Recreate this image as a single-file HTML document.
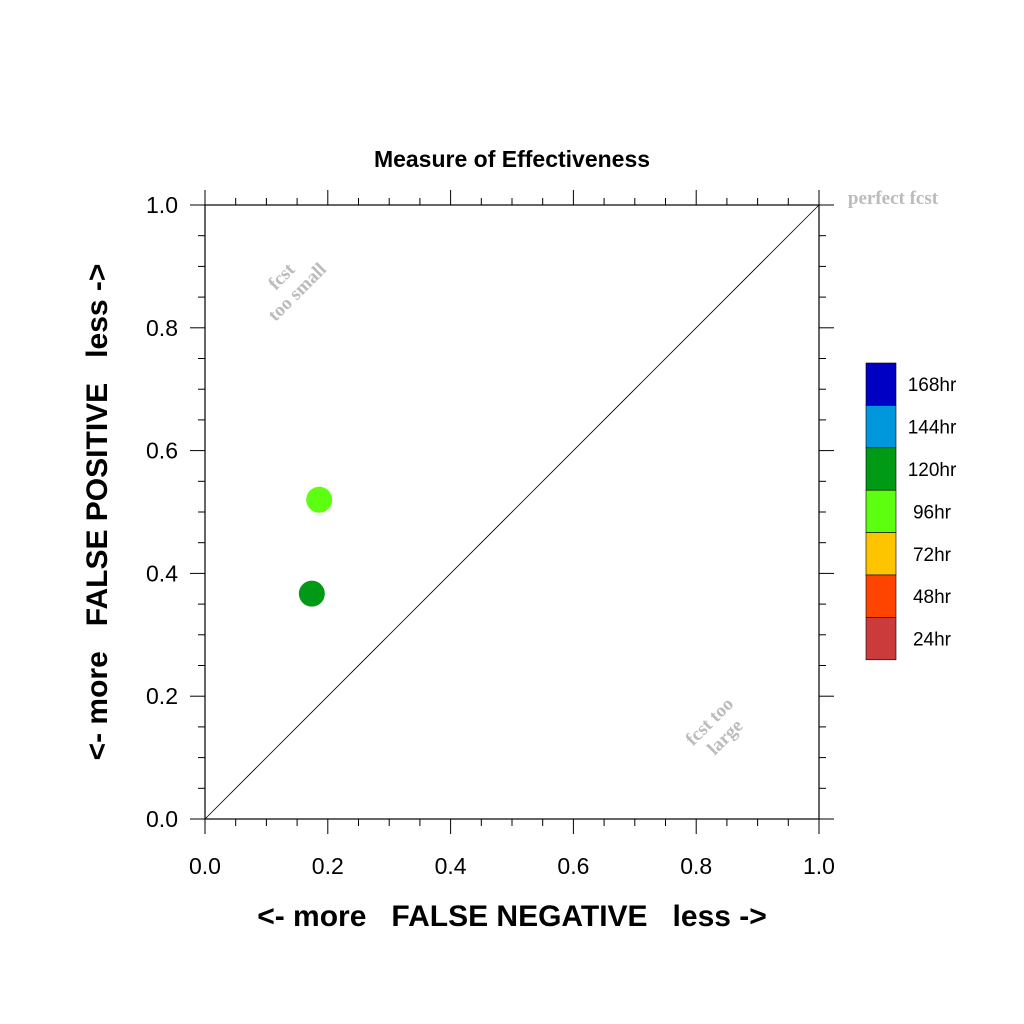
<!DOCTYPE html>
<html><head><style>body{margin:0;background:#fff}svg{display:block;font-family:"Liberation Sans",Arial,sans-serif}</style></head><body>
<svg id="c" width="1024" height="1024" viewBox="0 0 1024 1024">
<text x="512" y="167" text-anchor="middle" font-size="23" font-weight="bold">Measure of Effectiveness</text>
<g id="axes"></g>
<line x1="205" y1="819" x2="819" y2="205" stroke="#000" stroke-width="0.8"/>
<text x="893" y="204" text-anchor="middle" font-family="Liberation Serif,serif" font-weight="bold" font-size="19" fill="#bbb">perfect fcst</text>
<g transform="translate(290,285) rotate(-45)" fill="#bbb" font-family="Liberation Serif,serif" font-weight="bold" font-size="19" text-anchor="middle"><text x="0" y="-6">fcst</text><text x="0" y="16">too small</text></g>
<g transform="translate(718,730) rotate(-45)" fill="#bbb" font-family="Liberation Serif,serif" font-weight="bold" font-size="19" text-anchor="middle"><text x="0" y="-6">fcst too</text><text x="0" y="16">large</text></g>
<g id="pts"></g>
<g id="legend"></g>
<text x="512" y="926" text-anchor="middle" font-size="30" font-weight="bold" xml:space="preserve">&lt;- more   FALSE NEGATIVE   less -&gt;</text>
<text transform="translate(107,512) rotate(-90)" text-anchor="middle" font-size="30" font-weight="bold" xml:space="preserve">&lt;- more   FALSE POSITIVE   less -&gt;</text>
</svg>
<script>
const xTicks=[0,0.2,0.4,0.6,0.8,1.0];
const yTicks=[0,0.2,0.4,0.6,0.8,1.0];
const ptX=[0.186,0.174];
const ptY=[0.52,0.367];
const ptLabels=["96hr","120hr"];
const ptColors=["#5cff0f","#019a17"];
const legLabels=["168hr","144hr","120hr","96hr","72hr","48hr","24hr"];
const legColors=["#0000c4","#0097dc","#019a17","#5cff0f","#ffc400","#ff4400","#cc3b3b"];
const NS="http://www.w3.org/2000/svg";
const X0=205,X1=819,Y0=819,Y1=205;
const sx=v=>X0+(X1-X0)*v, sy=v=>Y0-(Y0-Y1)*v;
function mk(t,a,p){const e=document.createElementNS(NS,t);for(const k in a)e.setAttribute(k,a[k]);p.appendChild(e);return e;}
const ax=document.getElementById('axes');
const fr=mk('rect',{x:X0,y:Y1,width:X1-X0,height:Y0-Y1,fill:'none',stroke:'#000','stroke-width':1.2},ax);


for(let i=0;i<=20;i++){const v=i/20,maj=i%4==0,L=maj?15:7;
 const px=sx(v),py=sy(v);
 mk('line',{x1:px,y1:Y0,x2:px,y2:Y0+L,stroke:'#000','stroke-width':1},ax);
 mk('line',{x1:px,y1:Y1,x2:px,y2:Y1-L,stroke:'#000','stroke-width':1},ax);
 mk('line',{x1:X0,y1:py,x2:X0-L,y2:py,stroke:'#000','stroke-width':1},ax);
 mk('line',{x1:X1,y1:py,x2:X1+L,y2:py,stroke:'#000','stroke-width':1},ax);}
xTicks.forEach(v=>{const t=mk('text',{x:sx(v),y:874,'text-anchor':'middle','font-size':23},ax);t.textContent=v.toFixed(1);

});
yTicks.forEach(v=>{const t=mk('text',{x:178,y:sy(v)+8,'text-anchor':'end','font-size':23},ax);t.textContent=v.toFixed(1);

});
const pg=document.getElementById('pts');
ptX.forEach((v,i)=>{const c=mk('circle',{cx:sx(v),cy:sy(ptY[i]),r:13,fill:ptColors[i]},pg);

});
const lg=document.getElementById('legend');const bh=42.4;
legLabels.forEach((l,i)=>{const y=363+i*bh;
const r=mk('rect',{x:866,y:y,width:30,height:bh,fill:legColors[i],stroke:'#000','stroke-width':0.6},lg);


const t=mk('text',{x:932,y:y+bh/2+7,'text-anchor':'middle','font-size':19},lg);t.textContent=l;

});
</script>
</body></html>
